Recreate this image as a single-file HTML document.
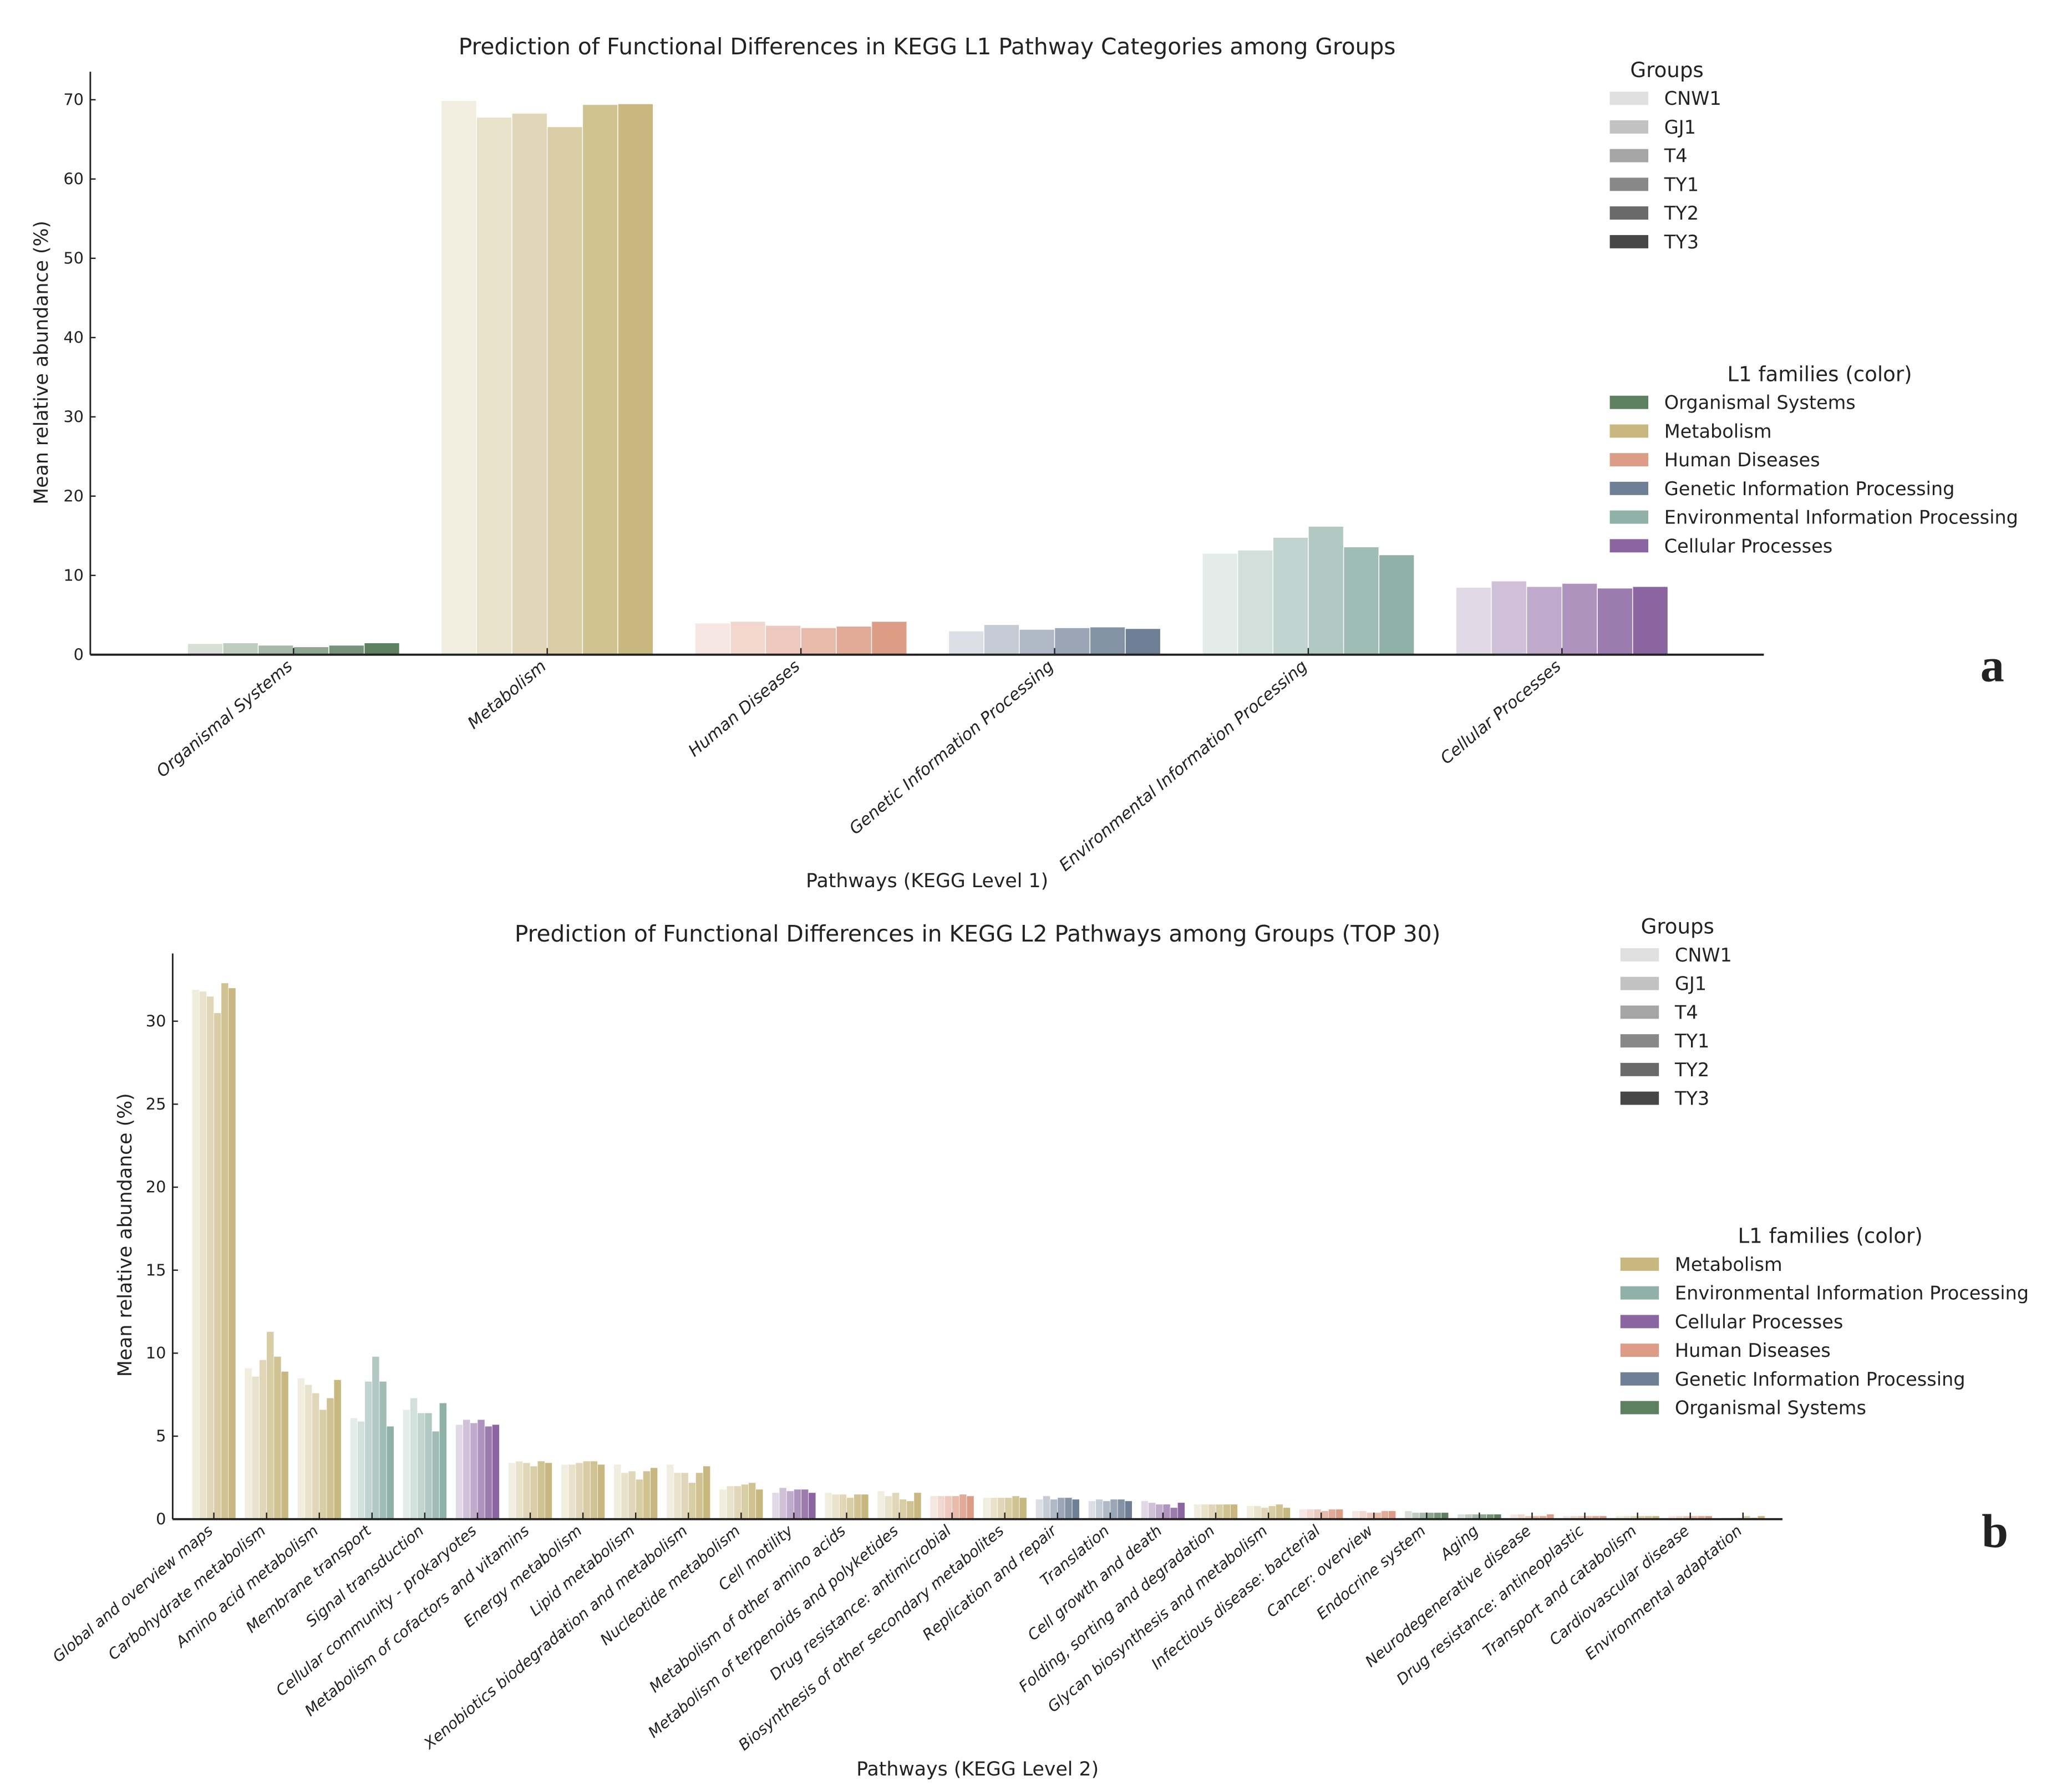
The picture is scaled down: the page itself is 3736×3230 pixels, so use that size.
<!DOCTYPE html>
<html><head><meta charset="utf-8"><style>html,body{margin:0;padding:0;background:#fff}svg{display:block}text{font-family:"DejaVu Sans","Liberation Sans",sans-serif;fill:#222}text.serif{font-family:"Liberation Serif",serif}</style></head>
<body>
<svg id="chart" xmlns="http://www.w3.org/2000/svg" width="3736" height="3230" viewBox="0 0 1560 1348.7"></svg>
<script>
const groups = ["CNW1","GJ1","T4","TY1","TY2","TY3"];
const groupColors = ["#e0e0e0","#c2c2c2","#a5a5a5","#888888","#6a6a6a","#474747"];
const famColors = {"Organismal Systems":"#5d8060","Metabolism":"#c8b77e","Human Diseases":"#dc9c85","Genetic Information Processing":"#6e7f96","Environmental Information Processing":"#8fb1a8","Cellular Processes":"#8a65a0"};
const aCats = ["Organismal Systems","Metabolism","Human Diseases","Genetic Information Processing","Environmental Information Processing","Cellular Processes"];
const aVals = [[1.4,1.5,1.2,1.0,1.2,1.5],[69.9,67.8,68.3,66.6,69.4,69.5],[4.0,4.2,3.7,3.4,3.6,4.2],[3.0,3.8,3.2,3.4,3.5,3.3],[12.8,13.2,14.8,16.2,13.6,12.6],[8.5,9.3,8.6,9.0,8.4,8.6]];
const aTicks = [0,10,20,30,40,50,60,70];
const aLegendFam = ["Organismal Systems","Metabolism","Human Diseases","Genetic Information Processing","Environmental Information Processing","Cellular Processes"];
const bCats = ["Global and overview maps","Carbohydrate metabolism","Amino acid metabolism","Membrane transport","Signal transduction","Cellular community - prokaryotes","Metabolism of cofactors and vitamins","Energy metabolism","Lipid metabolism","Xenobiotics biodegradation and metabolism","Nucleotide metabolism","Cell motility","Metabolism of other amino acids","Metabolism of terpenoids and polyketides","Drug resistance: antimicrobial","Biosynthesis of other secondary metabolites","Replication and repair","Translation","Cell growth and death","Folding, sorting and degradation","Glycan biosynthesis and metabolism","Infectious disease: bacterial","Cancer: overview","Endocrine system","Aging","Neurodegenerative disease","Drug resistance: antineoplastic","Transport and catabolism","Cardiovascular disease","Environmental adaptation"];
const bFam = ["Metabolism","Metabolism","Metabolism","Environmental Information Processing","Environmental Information Processing","Cellular Processes","Metabolism","Metabolism","Metabolism","Metabolism","Metabolism","Cellular Processes","Metabolism","Metabolism","Human Diseases","Metabolism","Genetic Information Processing","Genetic Information Processing","Cellular Processes","Metabolism","Metabolism","Human Diseases","Human Diseases","Organismal Systems","Organismal Systems","Human Diseases","Human Diseases","Metabolism","Human Diseases","Metabolism"];
const bVals = [[31.9,31.8,31.5,30.5,32.3,32.0],[9.1,8.6,9.6,11.3,9.8,8.9],[8.5,8.1,7.6,6.6,7.3,8.4],[6.1,5.9,8.3,9.8,8.3,5.6],[6.6,7.3,6.4,6.4,5.3,7.0],[5.7,6.0,5.8,6.0,5.6,5.7],[3.4,3.5,3.4,3.2,3.5,3.4],[3.3,3.3,3.4,3.5,3.5,3.3],[3.3,2.8,2.9,2.4,2.9,3.1],[3.3,2.8,2.8,2.2,2.8,3.2],[1.8,2.0,2.0,2.1,2.2,1.8],[1.6,1.9,1.7,1.8,1.8,1.6],[1.6,1.5,1.5,1.3,1.5,1.5],[1.7,1.4,1.6,1.2,1.1,1.6],[1.4,1.4,1.4,1.4,1.5,1.4],[1.3,1.3,1.3,1.3,1.4,1.3],[1.2,1.4,1.2,1.3,1.3,1.2],[1.1,1.2,1.1,1.2,1.2,1.1],[1.1,1.0,0.9,0.9,0.7,1.0],[0.9,0.9,0.9,0.9,0.9,0.9],[0.8,0.8,0.7,0.8,0.9,0.7],[0.6,0.6,0.6,0.5,0.6,0.6],[0.5,0.5,0.4,0.4,0.5,0.5],[0.5,0.4,0.4,0.4,0.4,0.4],[0.3,0.3,0.3,0.3,0.3,0.3],[0.3,0.3,0.2,0.2,0.2,0.3],[0.2,0.2,0.2,0.2,0.2,0.2],[0.2,0.2,0.2,0.2,0.2,0.2],[0.2,0.2,0.2,0.2,0.2,0.2],[0.1,0.1,0.1,0.2,0.1,0.2]];
const bTicks = [0,5,10,15,20,25,30];
const bLegendFam = ["Metabolism","Environmental Information Processing","Cellular Processes","Human Diseases","Genetic Information Processing","Organismal Systems"];

const NS="http://www.w3.org/2000/svg";
const svg=document.getElementById('chart');
function mk(tag,attrs,parent,txt){const e=document.createElementNS(NS,tag);for(const k in attrs)e.setAttribute(k,attrs[k]);if(txt!==undefined)e.textContent=txt;(parent||svg).appendChild(e);return e;}
const alphas=[0.25,0.4,0.55,0.7,0.85,1.0];
function shade(hex,a){const n=parseInt(hex.slice(1),16);const r=n>>16,g=(n>>8)&255,b=n&255;const m=c=>Math.round(255+(c-255)*a);return `rgb(${m(r)},${m(g)},${m(b)})`;}

function panel(cfg){
  const g=mk('g',{});
  
  
  const y=v=>cfg.base-(v/cfg.tickStep)*cfg.tickPx;
  const x=i=>cfg.x0+i*cfg.dx;
  cfg.vals.forEach((vs,i)=>{
    const fam=cfg.fam[i];
    vs.forEach((v,j)=>{
      const r=mk('rect',{x:x(i)-3*cfg.bw+j*cfg.bw,y:y(v),width:cfg.bw,height:cfg.base-y(v),fill:shade(famColors[fam],alphas[j]),stroke:'#fff','stroke-width':cfg.bw>10?0.6:0.3},g);
      
      
    });
  });
  const ya=mk('line',{x1:cfg.left,y1:cfg.top,x2:cfg.left,y2:cfg.base,stroke:'#222','stroke-width':1.2},g);
  
  const xa=mk('line',{x1:cfg.left,y1:cfg.base,x2:cfg.right,y2:cfg.base,stroke:'#222','stroke-width':1.6},g);
  
  cfg.ticks.forEach(t=>{
    mk('line',{x1:cfg.left,y1:y(t),x2:cfg.left+4,y2:y(t),stroke:'#222','stroke-width':1},g);
    const tl=mk('text',{x:cfg.left-5,y:y(t)+4,'font-size':12,'text-anchor':'end'},g,t);
    
  });
  cfg.cats.forEach((c,i)=>{
    mk('line',{x1:x(i),y1:cfg.base,x2:x(i),y2:cfg.base-5,stroke:'#222','stroke-width':1},g);
    const ly=cfg.base+10;
    const tl=mk('text',{x:x(i),y:ly,'font-size':cfg.fs,'font-style':'italic','text-anchor':'end',transform:`rotate(-40 ${x(i)} ${ly})`},g,c);
    
  });
  const t=mk('text',{x:cfg.titleX,y:cfg.titleY,'font-size':17,'text-anchor':'middle'},g,cfg.title);
  
  const xl=mk('text',{x:cfg.xlX,y:cfg.xlY,'font-size':14.5,'text-anchor':'middle'},g,cfg.xlabel);
  
  const yl=mk('text',{x:cfg.ylX,y:cfg.ylY,'font-size':14.5,'text-anchor':'middle',transform:`rotate(-90 ${cfg.ylX} ${cfg.ylY})`},g,'Mean relative abundance (%)');
  
  const gt=mk('text',{x:cfg.lgX+43,y:cfg.lgY-16,'font-size':15.5,'text-anchor':'middle'},g,'Groups');
  
  groups.forEach((n,j)=>{
    const yy=cfg.lgY+j*21.6;
    const r=mk('rect',{x:cfg.lgX,y:yy-5,width:29,height:10,fill:groupColors[j]},g);
    
    const tx=mk('text',{x:cfg.lgX+41,y:yy+5,'font-size':14},g,n);
    
  });
  const ft=mk('text',{x:cfg.lgX+158,y:cfg.lg2Y-16,'font-size':15.5,'text-anchor':'middle'},g,'L1 families (color)');
  
  cfg.legFam.forEach((n,j)=>{
    const yy=cfg.lg2Y+j*21.6;
    const r=mk('rect',{x:cfg.lgX,y:yy-5,width:29,height:10,fill:famColors[n]},g);
    
    const tx=mk('text',{x:cfg.lgX+41,y:yy+5,'font-size':14},g,n);
    
  });
  const pl=mk('text',{x:cfg.letX,y:cfg.letY,'font-size':36,'font-weight':'bold','class':'serif','text-anchor':'middle'},g,cfg.letter);
  
}
panel({name:'panel-a',cats:aCats,vals:aVals,fam:aCats,ticks:aTicks,tickStep:10,tickPx:59.7,base:493,top:54,left:68,right:1328,x0:221,dx:191,bw:26.6,fs:12.5,
  title:'Prediction of Functional Differences in KEGG L1 Pathway Categories among Groups',titleX:698,titleY:41,xlabel:'Pathways (KEGG Level 1)',xlX:698,xlY:668,ylX:36,ylY:273,
  lgX:1212,lgY:74,lg2Y:303,legFam:aLegendFam,letter:'a',letX:1500,letY:513});
panel({name:'panel-b',cats:bCats,vals:bVals,fam:bFam,ticks:bTicks,tickStep:5,tickPx:62.5,base:1144,top:718,left:130,right:1342,x0:161,dx:39.7,bw:5.5,fs:11.5,
  title:'Prediction of Functional Differences in KEGG L2 Pathways among Groups (TOP 30)',titleX:736,titleY:709,xlabel:'Pathways (KEGG Level 2)',xlX:736,xlY:1337,ylX:99,ylY:930,
  lgX:1220,lgY:719,lg2Y:952,legFam:bLegendFam,letter:'b',letX:1502,letY:1165});
</script>
</body></html>
